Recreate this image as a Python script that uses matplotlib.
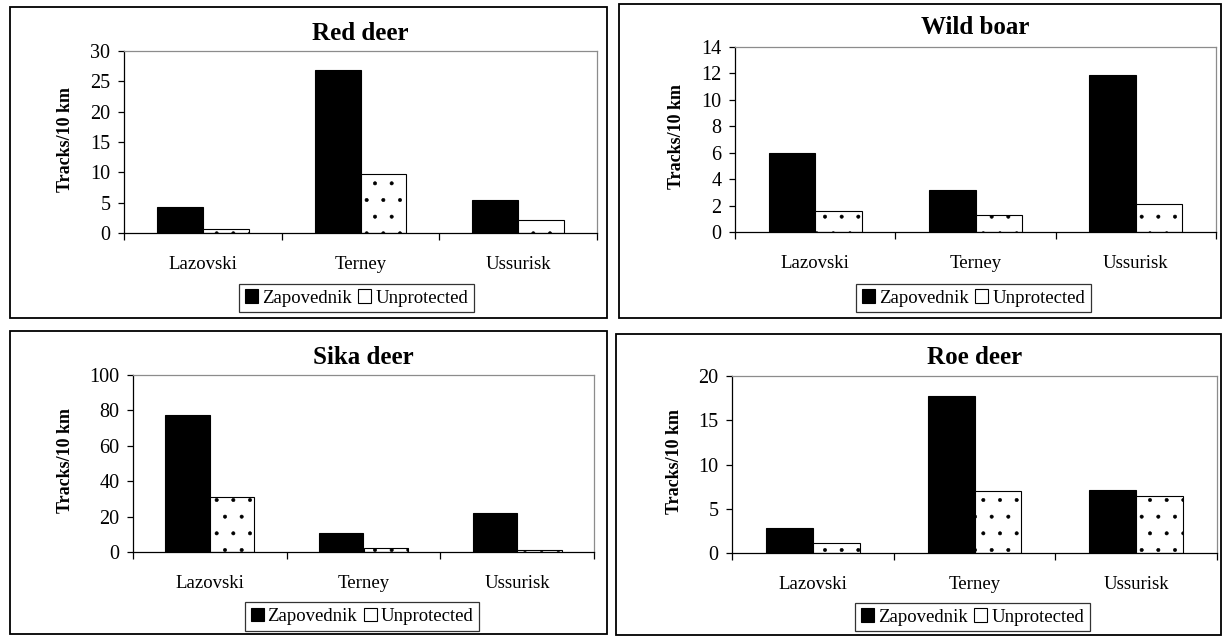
import matplotlib.pyplot as plt
from matplotlib.patches import Rectangle, Patch
import numpy as np

plt.rcParams['font.family'] = ['Liberation Serif', 'DejaVu Serif']
plt.rcParams['hatch.linewidth'] = 0.4

# data
sites = ['Lazovski', 'Terney', 'Ussurisk']
titles = ['Red deer', 'Wild boar', 'Sika deer', 'Roe deer']
red_deer_zap = [4.3, 26.8, 5.4]
red_deer_unp = [0.6, 9.8, 2.2]
wild_boar_zap = [6.0, 3.2, 11.9]
wild_boar_unp = [1.6, 1.25, 2.1]
sika_deer_zap = [77.5, 10.5, 22.2]
sika_deer_unp = [31.2, 2.0, 1.4]
roe_deer_zap = [2.8, 17.7, 7.1]
roe_deer_unp = [1.1, 6.95, 6.4]
y_max = [30, 14, 100, 20]
y_step = [5, 2, 20, 5]

W, H = 1222, 636
fig = plt.figure(figsize=(W / 100, H / 100), dpi=100)


def px(x0, y0, x1, y1):
    # pixel box (top-left origin) -> figure fraction rect
    return [x0 / W, 1 - y1 / H, (x1 - x0) / W, (y1 - y0) / H]


# layout per panel: border, axes, title y, ylabel x, legend box
layout = [
    dict(border=(10, 7, 607, 318), axes=(124, 51, 597, 233), title_y=33, ylab_x=66, leg=(237, 282, 476, 314)),
    dict(border=(619, 4, 1221, 318), axes=(735, 47, 1216, 232), title_y=28, ylab_x=677, leg=(851, 282, 1096, 314)),
    dict(border=(10, 331, 607, 634), axes=(133, 375, 594, 552), title_y=357, ylab_x=65, leg=(241, 600, 483, 633)),
    dict(border=(616, 334, 1221, 635), axes=(732, 376, 1217, 553), title_y=358, ylab_x=674, leg=(848, 601, 1097, 633)),
]
zap_all = [red_deer_zap, wild_boar_zap, sika_deer_zap, roe_deer_zap]
unp_all = [red_deer_unp, wild_boar_unp, sika_deer_unp, roe_deer_unp]

bw = 0.29
x = np.arange(len(sites))

for i, lay in enumerate(layout):
    bx0, by0, bx1, by1 = lay['border']
    fig.add_artist(Rectangle((bx0 / W, 1 - by1 / H), (bx1 - bx0) / W, (by1 - by0) / H,
                             transform=fig.transFigure, fill=False, ec='black', lw=1.3))
    ax = fig.add_axes(px(*lay['axes']))
    ax.bar(x - bw / 2, zap_all[i], bw, color='black', ec='black', lw=0.8)
    ax.bar(x + bw / 2, unp_all[i], bw, color='white', ec='black', lw=0.8, hatch='.')
    ax.set_xlim(-0.5, 2.5)
    ax.set_ylim(0, y_max[i])
    ax.set_yticks(np.arange(0, y_max[i] + 0.1, y_step[i]))
    ax.set_xticks(x)
    ax.set_xticklabels(sites)
    ax.set_xticks([-0.5, 0.5, 1.5, 2.5], minor=True)
    ax.tick_params(axis='x', which='major', length=0, pad=16.5, labelsize=13.5)
    ax.tick_params(axis='x', which='minor', length=5, width=0.9, direction='out')
    ax.tick_params(axis='y', length=4.3, width=0.9, pad=5.5, labelsize=14.5)
    for s in ['top', 'right']:
        ax.spines[s].set_color('#8c8c8c')
        ax.spines[s].set_linewidth(0.9)
    for s in ['left', 'bottom']:
        ax.spines[s].set_linewidth(0.9)
    ax0, ay0, ax1, ay1 = lay['axes']
    fig.text((ax0 + ax1) / 2 / W, 1 - lay['title_y'] / H, titles[i], ha='center', va='center',
             fontsize=18, fontweight='bold')
    fig.text(lay['ylab_x'] / W, 1 - ((ay0 + ay1) / 2 - 3) / H, 'Tracks/10 km', rotation=90,
             ha='center', va='center', fontsize=13, fontweight='bold')
    lx0, ly0, lx1, ly1 = lay['leg']
    handles = [Patch(fc='black', ec='black', lw=0.8), Patch(fc='white', ec='black', lw=0.8)]
    leg = fig.legend(handles, ['Zapovednik', 'Unprotected'], loc='center',
                     bbox_to_anchor=((lx0 + lx1) / 2 / W, 1 - (ly0 + ly1) / 2 / H),
                     ncol=2, fontsize=13.5, frameon=True, fancybox=False,
                     handlelength=0.7, handleheight=0.7, handletextpad=0.2,
                     columnspacing=0.35, borderpad=0.3, borderaxespad=0)
    leg.get_frame().set_edgecolor('black')
    leg.get_frame().set_linewidth(0.9)

fig.savefig('out.png', dpi=100)
